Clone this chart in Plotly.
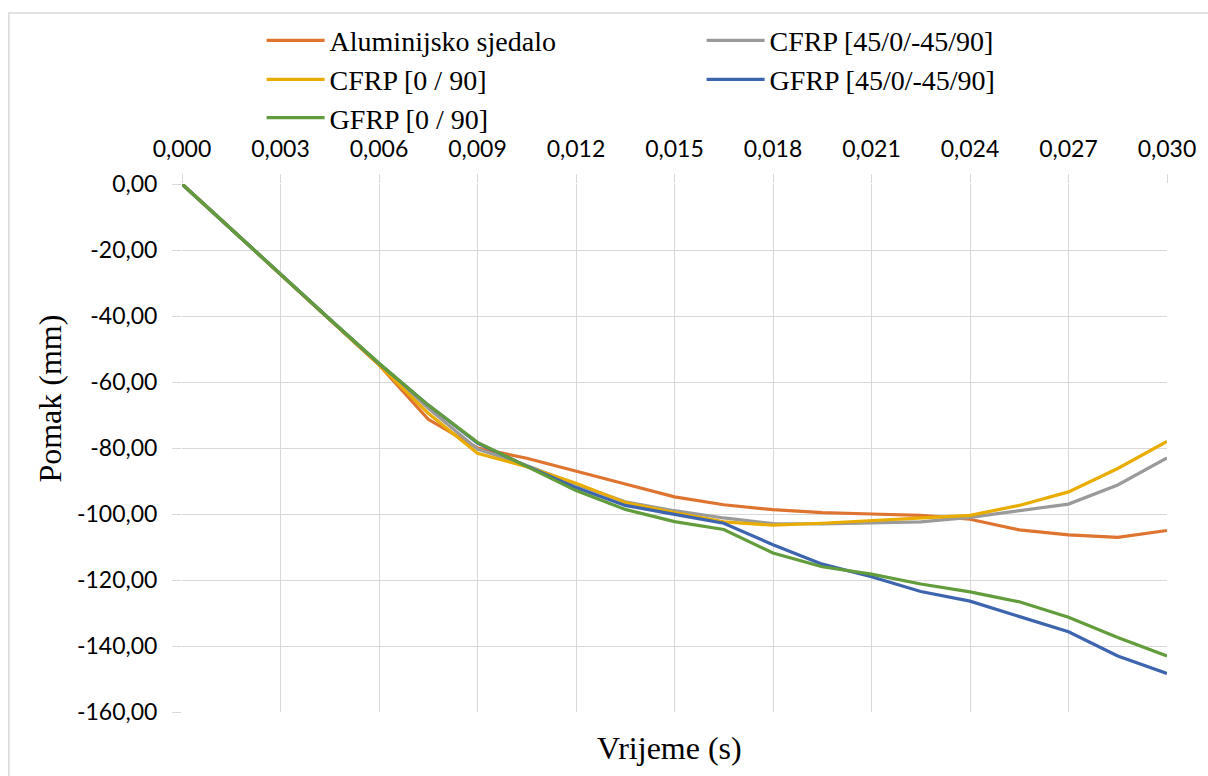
import plotly.graph_objects as go

vrijeme = [0.0, 0.0015, 0.003, 0.0045, 0.006, 0.0075, 0.009, 0.0105, 0.012, 0.0135,
           0.015, 0.0165, 0.018, 0.0195, 0.021, 0.0225, 0.024, 0.0255, 0.027, 0.0285, 0.030]

aluminij = [0, -13.7, -27.4, -41.2, -54.8, -71.3, -80.0, -83.1, -86.9, -90.9, -94.8,
            -97.2, -98.7, -99.6, -100.0, -100.4, -101.6, -104.8, -106.3, -107.1, -105.0]
cfrp_45 = [0, -13.7, -27.4, -41.0, -54.6, -68.0, -80.3, -85.3, -91.0, -96.3, -99.0,
           -101.2, -102.9, -103.0, -102.8, -102.4, -101.0, -99.0, -97.0, -91.2, -83.0]
cfrp_090 = [0, -13.7, -27.4, -41.0, -54.8, -69.5, -81.6, -85.7, -90.7, -96.5, -99.6,
            -102.4, -103.4, -102.8, -102.0, -101.1, -100.4, -97.4, -93.3, -86.2, -78.0]
gfrp_45 = [0, -13.7, -27.4, -41.0, -54.4, -67.0, -78.5, -85.5, -92.0, -97.4, -100.1,
           -102.8, -109.3, -115.2, -119.0, -123.5, -126.4, -131.1, -135.7, -143.0, -148.3]
gfrp_090 = [0, -13.7, -27.4, -41.0, -54.3, -67.0, -78.3, -85.7, -92.9, -98.6, -102.3,
            -104.7, -111.8, -116.0, -118.2, -121.2, -123.6, -126.6, -131.3, -137.4, -143.0]

names = ["Aluminijsko sjedalo", "CFRP [45/0/-45/90]", "CFRP [0 / 90]",
         "GFRP [45/0/-45/90]", "GFRP [0 / 90]"]
series = [aluminij, cfrp_45, cfrp_090, gfrp_45, gfrp_090]
colors = ["#DE7430", "#9A9A9A", "#E8AD00", "#3D64AE", "#629C3C"]
legends = ["legend", "legend", "legend2", "legend2", "legend3"]

x_ticks = [0.0, 0.003, 0.006, 0.009, 0.012, 0.015, 0.018, 0.021, 0.024, 0.027, 0.030]
y_ticks = [0, -20, -40, -60, -80, -100, -120, -140, -160]
x_ticktext = [f"{v:.3f}".replace(".", ",") for v in x_ticks]
y_ticktext = [f"{v:.2f}".replace(".", ",") for v in y_ticks]

fig = go.Figure()
for n, s, c, lg in zip(names, series, colors, legends):
    fig.add_trace(go.Scatter(x=vrijeme, y=s, mode="lines", name=n,
                             line=dict(color=c, width=3.2), legend=lg))

serif = "Liberation Serif"
sans = "Lato"
legend_common = dict(orientation="h", xanchor="left", yanchor="middle", x=0.0808,
                     font=dict(family=serif, size=28, color="#000000"),
                     entrywidth=367, itemwidth=58, bgcolor="rgba(0,0,0,0)",
                     borderwidth=0)

fig.update_layout(
    width=1208, height=776,
    margin=dict(l=182, r=36, t=184, b=64),
    paper_bgcolor="white", plot_bgcolor="white",
    font=dict(family=sans, size=23, color="#000000"),
    legend=dict(y=1.2715, **legend_common),
    legend2=dict(y=1.1975, **legend_common),
    legend3=dict(y=1.125, **legend_common),
    xaxis=dict(side="top", range=[0, 0.030], tickvals=x_ticks, ticktext=x_ticktext,
               showgrid=True, gridcolor="#D9D9D9", gridwidth=1,
               ticks="outside", ticklen=9, tickcolor="#D9D9D9",
               ticklabelstandoff=8,
               showline=False, zeroline=False,
               tickfont=dict(family=sans, size=23, color="#000000"),
               title=None),
    yaxis=dict(range=[-160, 0], tickvals=y_ticks, ticktext=y_ticktext,
               showgrid=True, gridcolor="#D9D9D9", gridwidth=1,
               ticks="outside", ticklen=9, tickcolor="#D9D9D9",
               ticklabelstandoff=10,
               showline=False, zeroline=False,
               tickfont=dict(family=sans, size=23, color="#000000"),
               title=None),
    shapes=[dict(type="rect", xref="paper", yref="paper",
                 x0=-0.1758, x1=1.06, y0=-0.2, y1=1.3239,
                 line=dict(color="#D9D9D9", width=1.5), fillcolor="rgba(0,0,0,0)", layer="below")],
    annotations=[
        dict(text="Vrijeme (s)", xref="paper", yref="paper", x=0.4949, y=-0.068,
             xanchor="center", yanchor="middle", showarrow=False,
             font=dict(family=serif, size=32, color="#000000")),
        dict(text="Pomak (mm)", xref="paper", yref="paper", x=-0.1343, y=0.593,
             xanchor="center", yanchor="middle", showarrow=False, textangle=-90,
             font=dict(family=serif, size=32, color="#000000")),
    ],
)

fig.write_html("out.html", config={"displayModeBar": False},
               post_script="document.body.style.margin='0';")
